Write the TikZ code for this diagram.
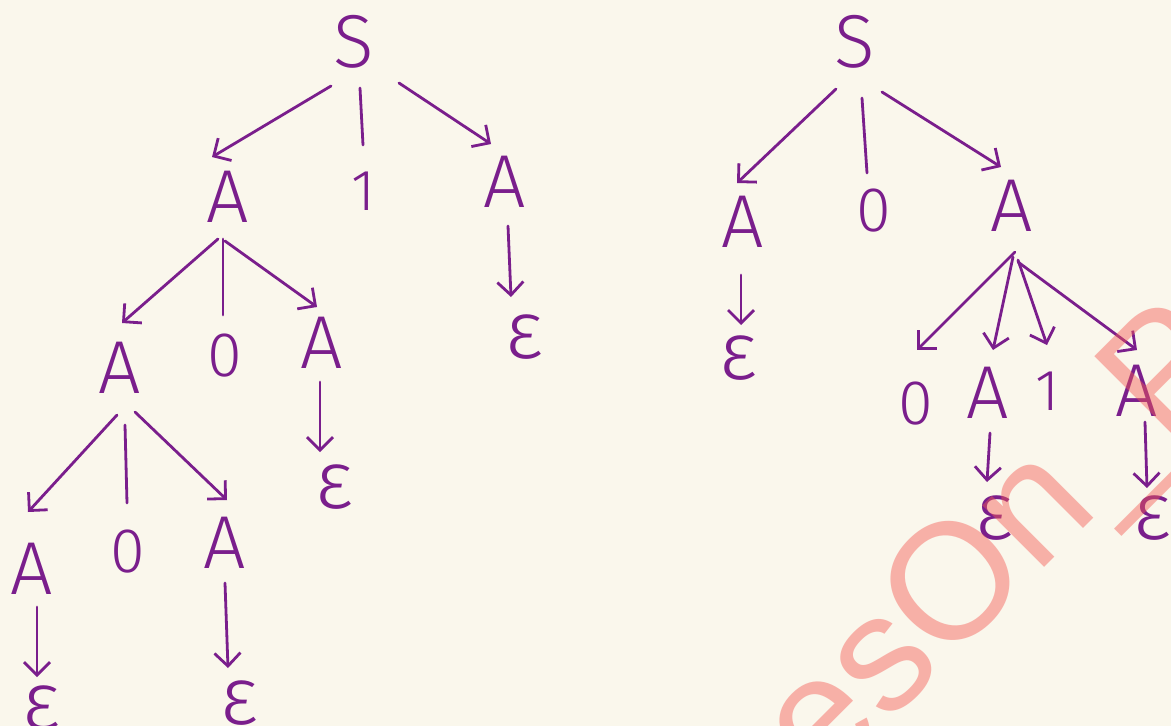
\documentclass[tikz,border=0pt]{standalone}
\usepackage{fontspec}
\newfontfamily\hand{Fira Sans Light}
\newfontfamily\wmfont{Liberation Sans}
\usetikzlibrary{arrows.meta}
\definecolor{ink}{RGB}{122,30,140}
\definecolor{paper}{RGB}{250,247,236}
\definecolor{wmark}{RGB}{245,90,83}
\tikzset{
  sym/.style={inner sep=0pt, outer sep=0pt, text=ink},
  nonterm/.style={sym, font=\hand\fontsize{75}{75}\selectfont},
  zero/.style={sym, font=\hand\fontsize{63}{63}\selectfont},
  onebar/.style={sym, font=\hand\fontsize{58}{58}\selectfont},
  eps/.style={sym, font=\hand\fontsize{82}{82}\selectfont},
  link/.style={draw=ink, line width=2.8pt, line cap=round, line join=round},
  arr/.style={link, -{Straight Barb[length=13pt,width=26pt]}},
  wm/.style={text=wmark, text opacity=0.45, inner sep=0pt, rotate=45, anchor=base west,
             font=\wmfont\fontsize{165}{165}\selectfont}
}
\begin{document}
\begin{tikzpicture}[x=1pt,y=-1pt]
\useasboundingbox (0,0) rectangle (1171,726);
\fill[paper] (0,0) rectangle (1171,726);
\begin{scope}
\clip (0,0) rectangle (1171,726);
% ---------- left tree ----------
\node[nonterm] (S0) at (354,42) {S};
\node[nonterm] (A1) at (228,197) {A};
\node[onebar]  (o1) at (363,191) {1};
\node[nonterm] (A2) at (505,182) {A};
\node[eps]     (e2) at (524,337) {ε};
\node[nonterm] (A3) at (120,368) {A};
\node[zero]    (z3) at (225,356) {0};
\node[nonterm] (A4) at (322,343) {A};
\node[eps]     (e4) at (334,487) {ε};
\node[nonterm] (A5) at (32,569) {A};
\node[zero]    (z5) at (128,552) {0};
\node[nonterm] (A6) at (225,543) {A};
\node[eps]     (e5) at (41,708) {ε};
\node[eps]     (e6) at (239,703) {ε};

\draw[arr]  ([shift={(-23,44)}]S0.center) -- ([shift={(-16,-40)}]A1.center);
\draw[link] ([shift={(6,46)}]S0.center) -- ([shift={(0,-46)}]o1.center);
\draw[arr]  ([shift={(45,41)}]S0.center) -- ([shift={(-14,-38)}]A2.center);
\draw[arr]  ([shift={(3,44)}]A2.center) -- ([shift={(-13,-40)}]e2.center);
\draw[arr]  ([shift={(-10,42)}]A1.center) -- ([shift={(2,-45)}]A3.center);
\draw[link] ([shift={(-5,42)}]A1.center) -- ([shift={(-2,-41)}]z3.center);
\draw[arr]  ([shift={(-3,44)}]A1.center) -- ([shift={(-5,-36)}]A4.center);
\draw[arr]  ([shift={(-2,39)}]A4.center) -- ([shift={(-14,-35)}]e4.center);
\draw[arr]  ([shift={(-3,47)}]A3.center) -- ([shift={(-4,-57)}]A5.center);
\draw[link] ([shift={(5,57)}]A3.center) -- ([shift={(-1,-49)}]z5.center);
\draw[arr]  ([shift={(15,44)}]A3.center) -- ([shift={(2,-43)}]A6.center);
\draw[arr]  ([shift={(5,38)}]A5.center) -- ([shift={(-4,-31)}]e5.center);
\draw[arr]  ([shift={(0,40)}]A6.center) -- ([shift={(-11,-35)}]e6.center);

% ---------- right tree ----------
\node[nonterm] (S1) at (855,42) {S};
\node[nonterm] (B1) at (743,222) {A};
\node[zero]    (y1) at (874,211) {0};
\node[nonterm] (B2) at (1012,206) {A};
\node[eps]     (f1) at (738,358) {ε};
\node[zero]    (y2) at (916,404) {0};
\node[nonterm] (B3) at (988,393) {A};
\node[onebar]  (w2) at (1047,391) {1};
\node[nonterm] (B4) at (1137,391) {A};
\node[eps]     (f3) at (994,518) {ε};
\node[eps]     (f4) at (1152,518) {ε};

\draw[arr]  ([shift={(-19,47)}]S1.center) -- ([shift={(-6,-39)}]B1.center);
\draw[link] ([shift={(7,56)}]S1.center) -- ([shift={(-7,-38)}]y1.center);
\draw[arr]  ([shift={(27,50)}]S1.center) -- ([shift={(-11,-39)}]B2.center);
\draw[arr]  ([shift={(-2,53)}]B1.center) -- ([shift={(3,-33)}]f1.center);
\draw[arr]  ([shift={(3,46)}]B2.center) -- ([shift={(1,-54)}]y2.center);
\draw[arr]  ([shift={(1,51)}]B2.center) -- ([shift={(5,-43)}]B3.center);
\draw[arr]  ([shift={(6,54)}]B2.center) -- ([shift={(0,-46)}]w2.center);
\draw[arr]  ([shift={(6,56)}]B2.center) -- ([shift={(0,-41)}]B4.center);
\draw[arr]  ([shift={(2,40)}]B3.center) -- ([shift={(-7,-36)}]f3.center);
\draw[arr]  ([shift={(8,31)}]B4.center) -- ([shift={(-5,-30)}]f4.center);

% ---------- watermark ----------
\node[wm] (mark) at (822,790) {esOn\_P};
\end{scope}
\end{tikzpicture}
\end{document}
